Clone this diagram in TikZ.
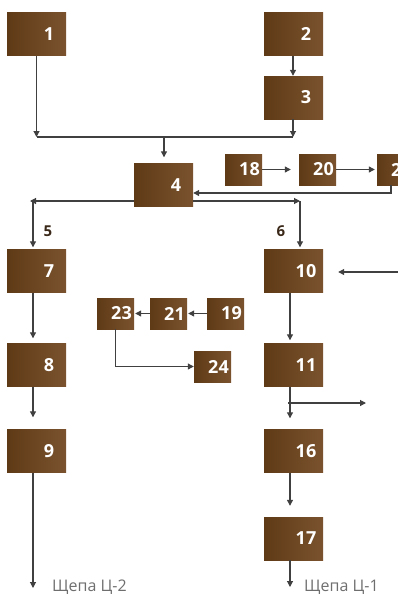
\documentclass[tikz,border=0pt]{standalone}
\usepackage{fontspec}
\setmainfont{Open Sans}
\usetikzlibrary{arrows.meta}
\definecolor{bl}{RGB}{95,58,22}
\definecolor{br}{RGB}{122,83,46}
\definecolor{lncol}{RGB}{64,64,64}
\definecolor{lblcol}{RGB}{58,40,24}
\definecolor{grcol}{RGB}{110,110,110}
\begin{document}
\begin{tikzpicture}[x=1pt,y=-1pt,
  boxbase/.style={draw=none, left color=bl, right color=br, inner sep=0pt, text=white,
    font=\fontsize{18}{18}\selectfont\bfseries},
  bbox/.style={boxbase, minimum width=59pt, minimum height=43pt, execute at begin node=\hspace*{25pt}},
  sbox/.style={boxbase, minimum width=37pt, minimum height=31pt, execute at begin node=\hspace*{12pt}},
  conn/.style={draw=lncol, line width=1.1pt},
  arr/.style={conn, -{Triangle[length=6pt,width=6pt]}},
  numlbl/.style={text=lblcol, font=\fontsize{15}{15}\selectfont\bfseries, inner sep=0pt},
  outlbl/.style={text=grcol, font=\fontsize{16}{16}\selectfont, inner sep=0pt, anchor=base west}]
\clip (0,0) rectangle (398,595);
% boxes
\node[bbox] (b1) at (36.5,34) {1};
\node[bbox] (b2) at (293.5,34) {2};
\node[bbox] (b3) at (293.5,97.5) {3};
\node[bbox] (b4) at (163.5,185) {4};
\node[sbox] (b18) at (243.5,169.5) {18};
\node[sbox] (b20) at (317.5,169.5) {20};
\node[sbox] (b22) at (395.5,169.5) {22};
\node[bbox] (b7) at (36.5,271) {7};
\node[bbox] (b10) at (293.5,271) {10};
\node[bbox] (b8) at (36.5,365) {8};
\node[bbox] (b11) at (293.5,365) {11};
\node[bbox] (b9) at (36.5,451) {9};
\node[bbox] (b16) at (293.5,451) {16};
\node[bbox] (b17) at (293.5,538.5) {17};
\node[sbox] (b19) at (225.5,313.5) {19};
\node[sbox] (b21) at (168.5,313.5) {21};
\node[sbox] (b23) at (115.5,313.5) {23};
\node[sbox] (b24) at (212.5,366.5) {24};
% labels
\node[numlbl] (l5) at (48,231) {5};
\node[numlbl] (l6) at (281,231) {6};
\node[outlbl] (o2) at (52,591) {Щепа Ц-2};
\node[outlbl] (o1) at (304,591) {Щепа Ц-1};
% coordinates
\coordinate (j1) at (36.5,137);
\coordinate (j3) at (293,137);
\coordinate (j4) at (164,137);
\coordinate (r4) at (300,201);
\coordinate (l4) at (30,201);
\coordinate (l4v) at (33,201);
\coordinate (c22) at (391,193);
\coordinate (in10) at (398,272);
\coordinate (s11) at (288,403);
\coordinate (e11) at (366,403);
\coordinate (out2) at (33,588);
\coordinate (out1) at (290,587);
% connectors
\draw[arr] (b1.south) -- (j1);
\draw[conn] (j1) -- (j3);
\draw[arr] (b3.south -| j3) -- (j3);
\draw[arr] (b2.south -| j3) -- (b3.north -| j3);
\draw[arr, shorten >=6pt] (j4) -- (b4.north -| j4);
\draw[arr, shorten >=8pt] (b18) -- (b20);
\draw[arr, shorten >=2pt] (b20) -- (b22);
\draw[arr] (b22.south -| c22) -- (c22) -- (b4.east |- c22);
\draw[arr] (b4.east |- r4) -- (r4);
\draw[arr, shorten >=2pt] (r4) -- (b10.north -| r4);
\draw[arr] (b4.west |- l4) -- (l4);
\draw[arr, shorten >=2pt] (l4v) -- (b7.north -| l4v);
\draw[arr, shorten >=5pt] (b7.south -| l4v) -- (b8.north -| l4v);
\draw[arr, shorten >=12pt] (b8.south -| l4v) -- (b9.north -| l4v);
\draw[arr] (b9.south -| out2) -- (out2);
\draw[arr, shorten >=15pt] (in10) -- (b10.east |- in10);
\draw[arr, shorten >=3pt] (b10.south -| out1) -- (b11.north -| out1);
\draw[arr, shorten >=11pt] (b11.south -| out1) -- (b16.north -| out1);
\draw[arr] (s11) -- (e11);
\draw[arr, shorten >=11pt] (b16.south -| out1) -- (b17.north -| out1);
\draw[arr] (b17.south -| out1) -- (out1);
\draw[arr, shorten >=1pt] (b19) -- (b21);
\draw[arr, shorten >=1pt] (b21) -- (b23);
\draw[arr] (b23.south) |- (b24.west);
\end{tikzpicture}
\end{document}
